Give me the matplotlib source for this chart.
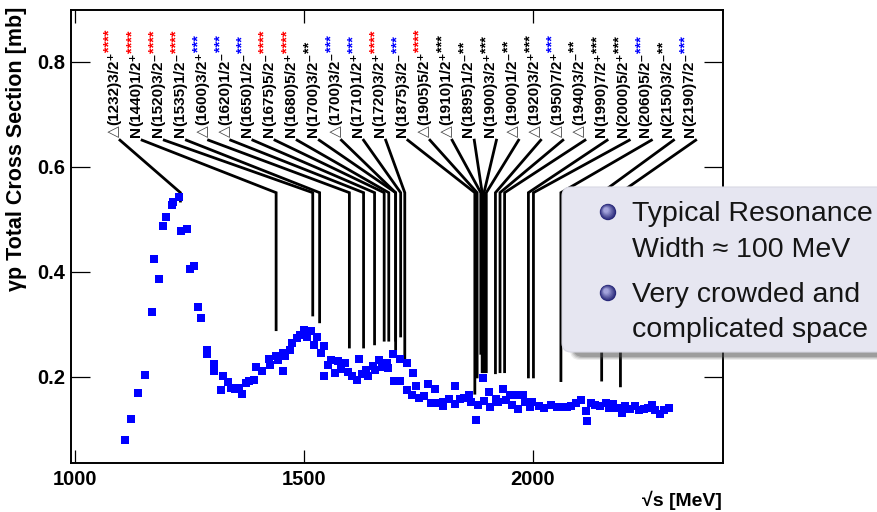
import numpy as np
import matplotlib.pyplot as plt
from matplotlib.patches import FancyBboxPatch, Circle
from matplotlib.transforms import IdentityTransform

plt.rcParams['font.family'] = ['Liberation Sans', 'DejaVu Sans']

W, H = 878, 512

# measured total cross section (sqrt(s) in MeV, sigma in mb)
energy = [1108, 1123, 1138, 1153, 1168, 1172, 1183, 1192, 1199, 1212, 1214, 1227,
          1231, 1244, 1250, 1259, 1268, 1274, 1287, 1289, 1304, 1303, 1319, 1322,
          1334, 1341, 1349, 1358, 1364, 1374, 1379, 1391, 1394, 1409, 1424, 1426,
          1439, 1443, 1453, 1455, 1458, 1469, 1474, 1485, 1491, 1499, 1506, 1515,
          1522, 1529, 1536, 1544, 1543, 1552, 1559, 1567, 1574, 1581, 1589, 1596,
          1605, 1616, 1619, 1627, 1635, 1640, 1650, 1655, 1663, 1670, 1681, 1683,
          1694, 1696, 1710, 1710, 1725, 1725, 1739, 1736, 1744, 1752, 1763, 1770,
          1777, 1785, 1787, 1803, 1804, 1816, 1829, 1830, 1841, 1849, 1860, 1865,
          1875, 1880, 1890, 1893, 1905, 1906, 1919, 1924, 1935, 1940, 1950, 1955,
          1964, 1967, 1979, 1983, 1993, 1998, 2014, 2025, 2039, 2052, 2062, 2074,
          2082, 2094, 2104, 2116, 2119, 2126, 2135, 2146, 2159, 2167, 2175, 2183,
          2194, 2202, 2212, 2223, 2232, 2242, 2252, 2261, 2266, 2277, 2286, 2298]
sigma = [0.079, 0.119, 0.169, 0.203, 0.324, 0.425, 0.387, 0.487, 0.504, 0.528, 0.533, 0.543,
         0.478, 0.481, 0.406, 0.411, 0.334, 0.312, 0.244, 0.251, 0.225, 0.211, 0.175, 0.201,
         0.190, 0.179, 0.177, 0.178, 0.168, 0.188, 0.192, 0.194, 0.219, 0.211, 0.234, 0.223,
         0.239, 0.232, 0.246, 0.211, 0.239, 0.251, 0.265, 0.274, 0.280, 0.290, 0.276, 0.287,
         0.261, 0.276, 0.245, 0.259, 0.201, 0.222, 0.232, 0.207, 0.231, 0.215, 0.227, 0.210,
         0.202, 0.194, 0.234, 0.206, 0.213, 0.202, 0.221, 0.213, 0.232, 0.218, 0.226, 0.217,
         0.243, 0.192, 0.234, 0.192, 0.226, 0.175, 0.208, 0.166, 0.183, 0.159, 0.164, 0.186,
         0.150, 0.177, 0.150, 0.145, 0.152, 0.158, 0.148, 0.182, 0.158, 0.159, 0.166, 0.153,
         0.117, 0.147, 0.198, 0.155, 0.172, 0.143, 0.158, 0.153, 0.177, 0.156, 0.166, 0.147,
         0.166, 0.139, 0.166, 0.153, 0.142, 0.153, 0.145, 0.140, 0.147, 0.143, 0.142, 0.143,
         0.145, 0.150, 0.156, 0.136, 0.116, 0.150, 0.147, 0.145, 0.151, 0.140, 0.149, 0.140,
         0.132, 0.145, 0.139, 0.145, 0.137, 0.139, 0.140, 0.147, 0.137, 0.130, 0.137, 0.140]

# resonances, left to right as labelled
res_kind = ["D", "N", "N", "N", "D", "D", "N", "N", "N", "N", "D", "N", "N", "N",
            "D", "D", "N", "N", "D", "D", "D", "D", "N", "N", "N", "N", "N"]
res_mass = ["1232", "1440", "1520", "1535", "1600", "1620", "1650", "1675", "1680",
            "1700", "1700", "1710", "1720", "1875", "1905", "1910", "1895", "1900",
            "1900", "1920", "1950", "1940", "1990", "2000", "2060", "2150", "2190"]
res_spin = ["3/2", "1/2", "3/2", "1/2", "3/2", "1/2", "1/2", "5/2", "5/2", "3/2", "3/2",
            "1/2", "3/2", "3/2", "5/2", "1/2", "1/2", "3/2", "1/2", "3/2", "7/2", "3/2",
            "7/2", "5/2", "5/2", "3/2", "7/2"]
res_parity = ["+", "+", "-", "-", "+", "-", "-", "-", "+", "-", "-", "+", "+", "-",
              "+", "+", "-", "+", "-", "+", "+", "-", "+", "+", "-", "-", "-"]
res_stars = [4, 4, 4, 4, 3, 3, 3, 4, 4, 2, 3, 3, 4, 3, 4, 3, 2, 3, 2, 3, 3, 2, 3, 3, 3, 2, 3]
res_star_color = ["red", "red", "red", "red", "blue", "blue", "blue", "red", "red",
                  "black", "blue", "blue", "red", "blue", "red", "black", "black",
                  "black", "black", "black", "blue", "black", "black", "black",
                  "blue", "black", "blue"]
# where each pointer line drops, and how far down it goes
line_mass = [1230, 1439, 1519, 1534, 1599, 1630, 1654, 1675, 1685, 1700, 1700, 1711,
             1720, 1873, 1878, 1886, 1889, 1893, 1898, 1918, 1928, 1938, 1990, 2001,
             2061, 2150, 2191]
line_end = [0.535, 0.290, 0.318, 0.305, 0.257, 0.257, 0.263, 0.270, 0.270, 0.252,
            0.270, 0.278, 0.228, 0.169, 0.200, 0.245, 0.210, 0.210, 0.210, 0.208,
            0.210, 0.210, 0.200, 0.200, 0.193, 0.194, 0.183]

bullets = ["Typical Resonance\nWidth \u2248 100 MeV", "Very crowded and\ncomplicated space"]

LABEL_X0 = 1085
LABEL_STEP = 48.36
LABEL_Y = 0.657
LINE_TOP = 0.651
LINE_KNEE = 0.551
SUP = {"+": "\u207a", "-": "\u207b"}

fig = plt.figure(figsize=(W / 100, H / 100), dpi=100)
ax = fig.add_axes([71 / W, 1 - 463 / H, 652 / W, 453 / H])

ax.set_xlim(991, 2415)
ax.set_ylim(0.036, 0.899)

for i in range(len(res_mass)):
    lx = LABEL_X0 + i * LABEL_STEP
    ax.plot([lx + 13, line_mass[i], line_mass[i]], [LINE_TOP, LINE_KNEE, line_end[i]],
            color="black", lw=2.0, solid_joinstyle="miter", zorder=2)
    if res_kind[i] == "D":
        t0 = ax.text(lx, LABEL_Y, "\u25b3", rotation=90, ha="center", va="bottom",
                     fontsize=11, family="DejaVu Sans", color="#444444")
    else:
        t0 = ax.text(lx, LABEL_Y, "N", rotation=90, ha="center", va="bottom",
                     fontsize=11, fontweight="bold")
    body = "(%s)%s%s" % (res_mass[i], res_spin[i], SUP[res_parity[i]])
    t1 = ax.annotate(body, xy=(0.5, 1.0), xycoords=t0, xytext=(0, 0),
                     textcoords="offset points", rotation=90, ha="center", va="bottom",
                     fontsize=11, fontweight="bold")
    ax.annotate("*" * res_stars[i], xy=(0.2, 1.0), xycoords=t1, xytext=(0, 0),
                textcoords="offset points", rotation=90, ha="center", va="bottom",
                fontsize=10.5, fontweight="bold", color=res_star_color[i])

ax.plot(energy, sigma, "s", color="blue", ms=5.2, mew=0, zorder=3)

ax.set_xticks([1000, 1500, 2000])
ax.set_xticklabels(["1000", "1500", "2000"])
ax.set_yticks([0.2, 0.4, 0.6, 0.8])
ax.set_yticklabels(["0.2", "0.4", "0.6", "0.8"])
for lab in ax.get_xticklabels() + ax.get_yticklabels():
    lab.set_fontweight("bold")
    lab.set_fontsize(14.5)
ax.tick_params(axis="x", direction="in", length=9.5, width=0.9, top=True, pad=5)
ax.tick_params(axis="y", direction="in", length=13.7, width=0.9, right=True, pad=4)
for sp in ax.spines.values():
    sp.set_linewidth(1.4)

fig.text(17 / W, 1 - 7 / H, "\u03b3p Total Cross Section [mb]", rotation=90,
         ha="center", va="top", fontsize=15.5, fontweight="bold")
fig.text(722 / W, 1 - 500 / H, "\u221as [MeV]", ha="right", va="center",
         fontsize=14, fontweight="bold")

# call-out box with shadow
ident = IdentityTransform()
for k, a in enumerate([0.10, 0.14, 0.20, 0.28]):
    sh = FancyBboxPatch((570 + k, H - 360 + k), 340, 165, boxstyle="round,pad=0,rounding_size=10",
                        transform=ident, facecolor="#505050", edgecolor="none", alpha=a, zorder=5)
    fig.add_artist(sh)
box = FancyBboxPatch((562, H - 352), 340, 165, boxstyle="round,pad=0,rounding_size=9",
                     transform=ident, facecolor="#E6E6F1", edgecolor="#D8D8E4", lw=0.8, zorder=6)
fig.add_artist(box)

for j, txt in enumerate(bullets):
    by = [212, 293][j]
    for k in range(7):
        f = k / 7
        base = np.array([0.16, 0.16, 0.48])
        hi = np.array([0.72, 0.72, 0.92])
        col = base + (hi - base) * f
        c = Circle((608 - 2.2 * f, H - by + 2.2 * f), 8.2 * (1 - 0.8 * f), transform=ident,
                   facecolor=col, edgecolor="none", zorder=7)
        fig.add_artist(c)
    fig.text(632 / W, 1 - [221, 302][j] / H, txt.split("\n")[0], ha="left", va="baseline",
             fontsize=20.5, color="#151515", zorder=8)
    fig.text(632 / W, 1 - [257, 337][j] / H, txt.split("\n")[1], ha="left", va="baseline",
             fontsize=20.5, color="#151515", zorder=8)

fig.savefig("out.png", dpi=100)
